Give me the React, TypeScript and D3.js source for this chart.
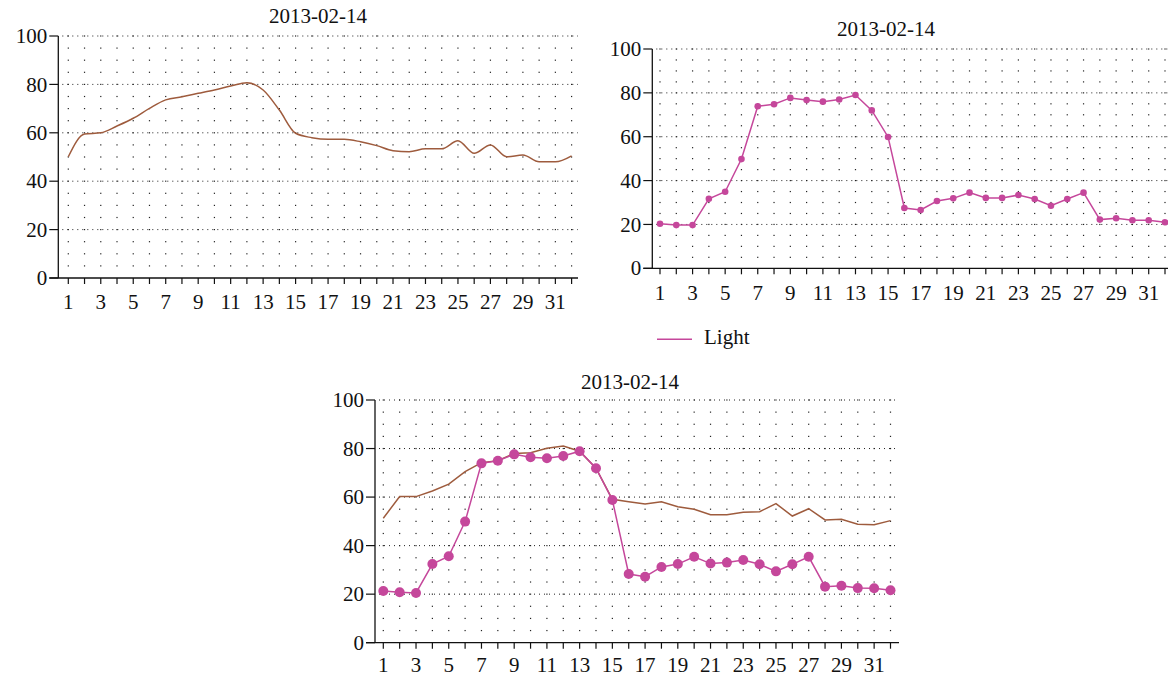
import React from "react";
import * as d3 from "d3";

// chart data
const days = [
  1, 2, 3, 4, 5, 6, 7, 8, 9, 10, 11, 12, 13, 14, 15, 16, 17, 18, 19, 20, 21, 22,
  23, 24, 25, 26, 27, 28, 29, 30, 31, 32,
];
const tempSmooth = [
  50.1, 59.5, 60, 62.8, 66, 70.1, 73.6, 74.9, 76.3, 77.7, 79.3, 80.7, 77.7, 69.4,
  59.8, 58, 57.3, 57.3, 56.3, 54.7, 52.6, 52.2, 53.4, 53.4, 56.7, 51.5, 55, 50.1,
  50.8, 48, 48, 50.5,
];
const tempLine = [
  51.3, 60.2, 60.2, 62.5, 65.3, 70.5, 74.2, 75, 78, 78.3, 80.1, 81, 78.9, 71.9,
  59.1, 58.1, 57.2, 58.1, 56, 55, 52.7, 52.7, 53.7, 54, 57.3, 52.2, 55.2, 50.6,
  50.9, 48.8, 48.6, 50.3,
];
const lightTop = [
  20.3, 19.7, 19.7, 31.7, 34.9, 49.8, 73.9, 74.8, 77.7, 76.7, 76, 77, 79, 72,
  59.9, 27.5, 26.6, 30.7, 31.9, 34.5, 32.1, 32.1, 33.4, 31.6, 28.5, 31.6, 34.5,
  22.2, 22.8, 21.9, 21.9, 21,
];
const lightBottom = [
  21.3, 20.8, 20.5, 32.4, 35.6, 49.9, 73.9, 75, 77.6, 76.4, 76, 76.9, 78.9, 71.9,
  58.8, 28.3, 27.2, 31.2, 32.4, 35.4, 32.6, 33, 34.1, 32.3, 29.4, 32.3, 35.4,
  23.1, 23.5, 22.5, 22.4, 21.6,
];
const yTicks = [0, 20, 40, 60, 80, 100];
const xTickLabels = [1, 3, 5, 7, 9, 11, 13, 15, 17, 19, 21, 23, 25, 27, 29, 31];
const gridRows = [5, 10, 15, 20, 25, 30, 35, 40, 45, 50, 55, 60, 65, 70, 75, 80, 85, 90, 95, 100];
const majorRows = [20, 40, 60, 80, 100];
const chartTitle = "2013-02-14";
const legendLabel = "Light";

const BROWN = "#9e5b3d";
const MAGENTA = "#c5479b";
const FONT = "'Liberation Serif', 'Times New Roman', serif";
const FS = 21;

type Series = {
  values: number[];
  color: string;
  curve: d3.CurveFactory;
  radius: number;
};

type PanelProps = {
  axisX: number;
  axisEnd: number;
  firstX: number;
  lastX: number;
  yTop: number;
  yBottom: number;
  titleX: number;
  titleY: number;
  labelY: number;
  series: Series[];
};

const Panel: React.FC<PanelProps> = ({
  axisX,
  axisEnd,
  firstX,
  lastX,
  yTop,
  yBottom,
  titleX,
  titleY,
  labelY,
  series,
}) => {
  const x = d3.scaleLinear().domain([1, 32]).range([firstX, lastX]);
  const y = d3.scaleLinear().domain([0, 100]).range([yBottom, yTop]);
  const tickLeft = axisX - 9;

  return (
    <g fontFamily={FONT}>
      <text x={titleX} y={titleY} textAnchor="middle" fontSize={FS} fill="#111">
        {chartTitle}
      </text>

      {/* dotted grid */}
      {majorRows.map((v) => (
        <line
          key={"m" + v}
          x1={axisX + 4}
          x2={axisEnd}
          y1={y(v)}
          y2={y(v)}
          stroke="#222"
          strokeWidth={1}
          strokeDasharray="1,4"
        />
      ))}
      {gridRows.map((v) =>
        days.map((d) => (
          <rect
            key={"g" + v + "-" + d}
            x={x(d) - 0.6}
            y={y(v) - 0.6}
            width={1.2}
            height={1.2}
            fill="#222"
          />
        ))
      )}

      {/* axes */}
      <line x1={axisX} x2={axisX} y1={y(100)} y2={yBottom} stroke="#111" strokeWidth={1.3} />
      <line x1={tickLeft} x2={axisEnd} y1={yBottom} y2={yBottom} stroke="#111" strokeWidth={1.3} />
      {yTicks.map((t) => (
        <g key={"yt" + t}>
          <line x1={tickLeft} x2={axisX} y1={y(t)} y2={y(t)} stroke="#111" strokeWidth={1.2} />
          <text
            x={tickLeft - 2}
            y={y(t)}
            dy="0.34em"
            textAnchor="end"
            fontSize={FS}
            fill="#111"
          >
            {t}
          </text>
        </g>
      ))}
      {days.map((d) => (
        <line
          key={"xt" + d}
          x1={x(d)}
          x2={x(d)}
          y1={yBottom}
          y2={yBottom + 6}
          stroke="#111"
          strokeWidth={1.2}
        />
      ))}
      {xTickLabels.map((d) => (
        <text key={"xl" + d} x={x(d)} y={labelY} textAnchor="middle" fontSize={FS} fill="#111">
          {d}
        </text>
      ))}

      {/* series */}
      {series.map((s, i) => {
        const line = d3
          .line<number>()
          .x((_, j) => x(days[j]))
          .y((v) => y(v))
          .curve(s.curve);
        return (
          <g key={"s" + i}>
            <path d={line(s.values) || ""} fill="none" stroke={s.color} strokeWidth={1.5} />
            {s.radius > 0 &&
              s.values.map((v, j) => (
                <circle key={j} cx={x(days[j])} cy={y(v)} r={s.radius} fill={s.color} />
              ))}
          </g>
        );
      })}
    </g>
  );
};

export default function App() {
  return (
    <svg
      width={1168}
      height={677}
      style={{ position: "absolute", left: 0, top: 0, background: "#fff" }}
    >
      <rect width={1168} height={677} fill="#fff" />
      <Panel
        axisX={58.3}
        axisEnd={578}
        firstX={68.3}
        lastX={571.6}
        yTop={36}
        yBottom={278}
        titleX={318}
        titleY={23}
        labelY={309}
        series={[{ values: tempSmooth, color: BROWN, curve: d3.curveMonotoneX, radius: 0 }]}
      />
      <Panel
        axisX={652.3}
        axisEnd={1168}
        firstX={660}
        lastX={1165}
        yTop={49}
        yBottom={268.3}
        titleX={886}
        titleY={36}
        labelY={300}
        series={[{ values: lightTop, color: MAGENTA, curve: d3.curveLinear, radius: 3.3 }]}
      />
      <Panel
        axisX={375}
        axisEnd={899}
        firstX={383.3}
        lastX={890.5}
        yTop={400}
        yBottom={642.7}
        titleX={630}
        titleY={389}
        labelY={672}
        series={[
          { values: tempLine, color: BROWN, curve: d3.curveLinear, radius: 0 },
          { values: lightBottom, color: MAGENTA, curve: d3.curveLinear, radius: 5 },
        ]}
      />

      {/* legend */}
      <g fontFamily={FONT}>
        <line x1={657} x2={692} y1={339.3} y2={339.3} stroke={MAGENTA} strokeWidth={1.5} />
        <text x={704} y={344} fontSize={FS} fill="#111">
          {legendLabel}
        </text>
      </g>
    </svg>
  );
}
